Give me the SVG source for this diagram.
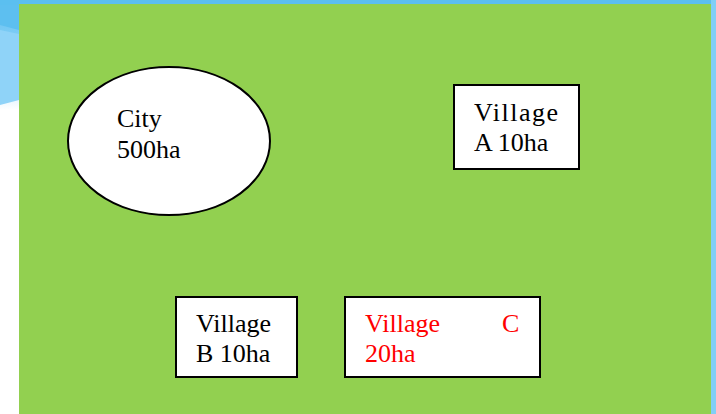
<svg xmlns="http://www.w3.org/2000/svg" width="716" height="414" viewBox="0 0 716 414">
<defs>
<linearGradient id="lb" x1="0" y1="0" x2="0" y2="1">
<stop offset="0" stop-color="#5dbff0"/>
<stop offset="0.5" stop-color="#8fd3f8"/>
<stop offset="1" stop-color="#ffffff"/>
</linearGradient>
</defs>
<style>
.box{fill:#fff;stroke:#000;stroke-width:2}
.t{font-family:"Liberation Serif",serif;font-size:26px;fill:#000}
.red{fill:#ff0000}
</style>
<rect width="716" height="414" fill="#fff"/>
<rect x="0" y="0" width="19" height="110" fill="url(#lb)"/>
<path d="M0 0 H19 V30 L0 25 Z" fill="#5dbff0"/>
<path d="M0 30 L19 34 V100 L0 105 Z" fill="#8fd3f8"/>
<rect x="0" y="0" width="716" height="5" fill="#5bbff0"/>
<rect x="711" y="0" width="5" height="414" fill="#80cff6"/>
<rect x="19" y="4" width="692" height="410" fill="#92d050"/>
<g id="city">
<ellipse class="box" cx="169" cy="141" rx="101" ry="74"/>
<text class="t" x="117" y="127">City</text>
<text class="t" x="117" y="158">500ha</text>
</g>
<g id="villageA">
<rect class="box" x="454" y="85" width="125" height="84"/>
<text class="t" x="474" y="121" letter-spacing="1.5">Village</text>
<text class="t" x="474" y="151">A 10ha</text>
</g>
<g id="villageB">
<rect class="box" x="176" y="297" width="121" height="80"/>
<text class="t" x="196" y="332">Village</text>
<text class="t" x="196" y="362">B 10ha</text>
</g>
<g id="villageC">
<rect class="box" x="345" y="297" width="195" height="80"/>
<text class="t red" x="365" y="332">Village</text>
<text class="t red" x="502" y="332">C</text>
<text class="t red" x="365" y="362">20ha</text>
</g>
<g id="connectors"></g>
</svg>
